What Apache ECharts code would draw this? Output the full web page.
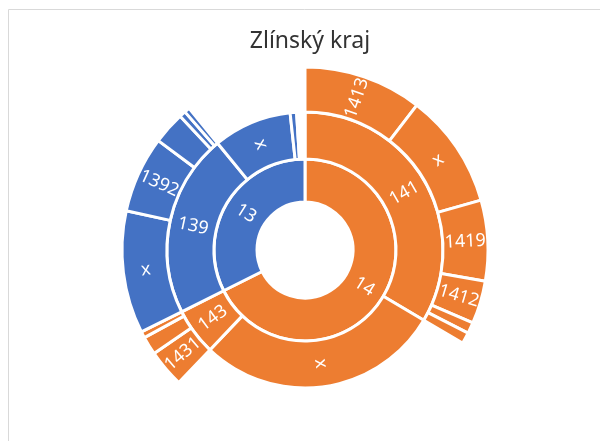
<!DOCTYPE html>
<html>
<head>
<meta charset="utf-8">
<script src="https://cdn.jsdelivr.net/npm/echarts@6/dist/echarts.min.js"></script>
<style>
  html, body { margin: 0; padding: 0; background: #fff; }
  #chart { width: 600px; height: 441px; }
</style>
</head>
<body>
<div id="chart"></div>
<script>
// ring 1
var rootNames = ['14', '13'];
var colors = ['#ED7D31', '#4472C4'];

// ring 2 under 14 / 13 (leaf values only, nodes get summed)
var kids14 = ['141', 'x', '143'];
var leaf14x = 103.0;
var kids13 = ['139', 'x', '131', '132', '133', '134'];
var vals13 = [null, 33.1, 2.7, 1.2, 1.1, 1.2];

// ring 3
var kids141 = ['1413', 'x', '1419', '1412', '1411', '1414'];
var vals141 = [37.7, 36.5, 25.6, 13.7, 3.5, 3.6];
var kids143 = ['1431', '1432', '1433'];
var vals143 = [12.0, 5.8, 2.0];
var kids139 = ['x', '1392', '1391', '1393', '1394'];
var vals139 = [39.0, 24.3, 10.3, 2.0, 1.7];

function leaves(names, vals) {
  return names.map(function (n, i) { return { name: n, value: vals[i] }; });
}

var data = [
  {
    name: rootNames[0],
    children: [
      { name: kids14[0], children: leaves(kids141, vals141) },
      { name: kids14[1], value: leaf14x },
      { name: kids14[2], children: leaves(kids143, vals143) }
    ]
  },
  {
    name: rootNames[1],
    children: kids13.map(function (n, i) {
      if (n === '139') return { name: n, children: leaves(kids139, vals139) };
      return { name: n, value: vals13[i] };
    })
  }
];

// whole branch keeps the colour of its top node
function paint(node, c) {
  node.itemStyle = { color: c };
  (node.children || []).forEach(function (ch) { paint(ch, c); });
}
data.forEach(function (d, i) { paint(d, colors[i]); });

var chart = echarts.init(document.getElementById('chart'));
chart.setOption({
  animation: false,
  title: {
    text: 'Zlínský kraj',
    left: 305,
    textAlign: 'center',
    top: 25,
    textStyle: { fontFamily: 'Noto Sans', fontSize: 23, fontWeight: 'normal', color: '#333' }
  },
  graphic: [{
    type: 'rect',
    shape: { x: 8.5, y: 9.5, width: 620, height: 460 },
    style: { fill: 'none', stroke: '#d9d9d9', lineWidth: 1 }
  }],
  series: [{
    type: 'sunburst',
    center: [305, 250],
    startAngle: 90,
    clockwise: true,
    sort: null,
    nodeClick: false,
    data: data,
    itemStyle: { borderColor: '#fff', borderWidth: 3 },
    label: {
      rotate: 'radial',
      color: '#fff',
      fontFamily: 'Noto Sans',
      fontSize: 18,
      minAngle: 11
    },
    levels: [
      {},
      { r0: 48, r: 91 },
      { r0: 91, r: 138 },
      { r0: 138, r: 183 }
    ]
  }]
});
</script>
</body>
</html>
